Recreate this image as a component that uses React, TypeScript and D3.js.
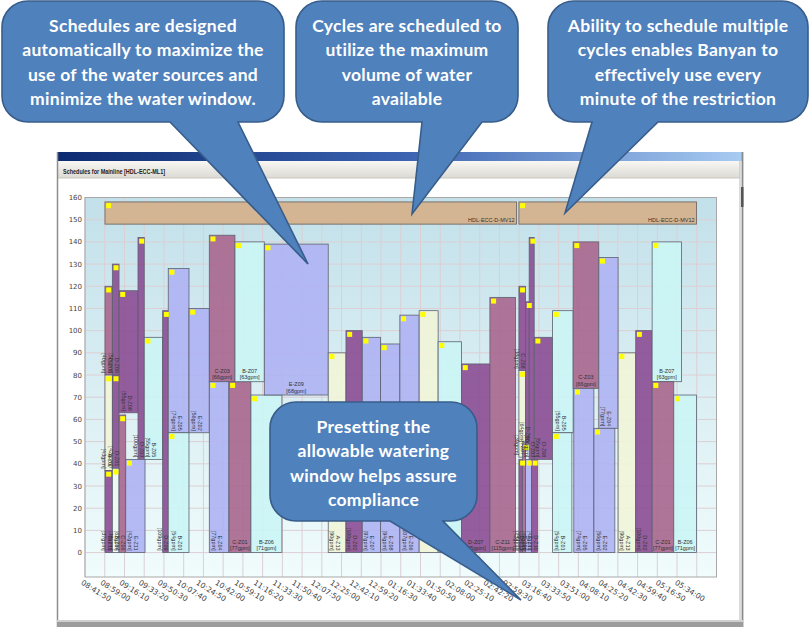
import React from "react";
import * as d3 from "d3";

// ---------- data ----------
const timeLabels = [
  "08:41:50", "08:59:00", "09:16:10", "09:33:20", "09:50:30", "10:07:40", "10:24:50", "10:42:00",
  "10:59:10", "11:16:20", "11:33:30", "11:50:40", "12:07:50", "12:25:00", "12:42:10", "12:59:20",
  "01:16:30", "01:33:40", "01:50:50", "02:08:00", "02:25:10", "02:42:20", "02:59:30", "03:16:40",
  "03:33:50", "03:51:00", "04:08:10", "04:25:20", "04:42:30", "04:59:40", "05:16:50", "05:34:00",
];
const yTickValues = [0, 10, 20, 30, 40, 50, 60, 70, 80, 90, 100, 110, 120, 130, 140, 150, 160];

// zones (minutes after 08:41:50, flow stack in gpm)
const zoneNames = [
  "C-Z08", "A-Z07", "D-Z11", "D-Z06", "D-Z01", "B-Z04", "D-Z08", "C-Z06", "D-Z03", "E-Z11",
  "B-Z05", "D-Z09", "E-Z05", "B-Z01", "E-Z02", "C-Z03", "E-Z04", "C-Z01", "B-Z07", "B-Z06",
  "E-Z09", "A-Z13", "D-Z02", "E-Z07", "E-Z08", "E-Z06", "", "", "D-Z07", "C-Z11",
  "C-Z08", "A-Z07", "D-Z11", "C-Z06", "D-Z06", "D-Z03", "E-Z11", "D-Z10", "D-Z08", "B-Z05",
  "B-Z01", "C-Z03", "E-Z05", "E-Z04", "E-Z02", "A-Z13", "D-Z02", "B-Z07", "C-Z01", "B-Z06",
];
const zoneKinds = [
  "C", "A", "D", "D", "D", "P", "D", "C", "D", "E",
  "B", "D", "E", "B", "E", "C", "E", "C", "B", "B",
  "E", "A", "D", "E", "E", "E", "A", "B", "D", "C",
  "D", "A", "D", "C", "D", "D", "E", "D", "D", "B",
  "B", "C", "E", "E", "E", "A", "D", "B", "C", "B",
];
const zoneStart = [
  17.9, 17.9, 17.9, 24.5, 24.5, 24.5, 30.5, 30.5, 47.5, 36.5,
  53.1, 69.6, 74.6, 74.6, 93.2, 111.4, 111.4, 129.0, 134.4, 148.7,
  160.7, 218.0, 233.9, 248.5, 264.9, 282.2, 299.5, 316.5, 337.5, 362.9,
  388.9, 388.9, 388.9, 392.0, 394.9, 398.1, 394.9, 400.2, 402.6, 419.1,
  419.1, 437.5, 438.1, 460.5, 456.1, 477.8, 493.6, 508.3, 508.3, 527.7,
];
const zoneEnd = [
  24.5, 24.5, 24.5, 30.5, 30.5, 30.5, 47.5, 36.5, 53.1, 53.8,
  69.6, 74.6, 93.2, 93.2, 111.4, 134.4, 129.0, 148.7, 160.7, 176.5,
  218.0, 233.9, 248.5, 264.9, 282.2, 299.5, 316.5, 337.5, 362.9, 385.9,
  394.9, 394.9, 392.0, 394.9, 398.1, 402.6, 400.2, 405.6, 419.1, 437.5,
  436.4, 460.5, 456.1, 477.8, 474.9, 493.6, 508.3, 534.6, 527.7, 548.1,
];
const zoneBase = [
  80, 37, 0, 80, 38, 0, 63, 0, 42, 0,
  42, 0, 54, 0, 54, 77, 0, 0, 77, 0,
  71, 0, 0, 0, 0, 0, 0, 0, 0, 0,
  82, 43, 0, 0, 49, 42, 0, 0, 42, 54,
  0, 74, 0, 56, 0, 0, 0, 77, 0, 0,
];
const zoneTop = [
  120, 80, 37, 130, 80, 38, 118, 62, 142, 42,
  97, 109, 128, 54, 110, 143, 77, 77, 140, 71,
  139, 90, 100, 97, 94, 107, 109, 95, 85, 115,
  120, 82, 42, 49, 113, 142, 42, 42, 97, 109,
  54, 140, 74, 133, 56, 90, 100, 140, 77, 71,
];

const headerNames = ["HDL-ECC-D-MV12", "HDL-ECC-D-MV12"];
const headerStart = [17.9, 388.9];
const headerEnd = [386.8, 548.1];
const headerBase = [148, 148];
const headerTop = [158, 158];

const calloutTexts = [
  ["Schedules are designed", "automatically to maximize the", "use of the water sources and", "minimize the water window."],
  ["Cycles are scheduled to", "utilize the maximum", "volume of water", "available"],
  ["Ability to schedule multiple", "cycles enables Banyan to", "effectively use every", "minute of the restriction"],
  ["Presetting the", "allowable watering", "window helps assure", "compliance"],
];

// ---------- layout ----------
const W = 810;
const H = 631;
const PL = 85, PR = 716.5, PT = 197.5, PB = 577;
const X_MAX = 566; // minutes spanned by plot
const Y_MIN = -11, Y_MAX = 160;

const KIND_FILL: Record<string, string> = {
  D: "#8b4d93",
  C: "#a9668e",
  E: "#aeb2f3",
  B: "#cbf5f5",
  A: "#f1f5d7",
  P: "#eef8f2",
};

const callouts = [
  { box: [2, 1, 284, 122], base: [170, 238], tip: [308, 264] },
  { box: [296, 1, 518, 122], base: [422, 482], tip: [412, 214] },
  { box: [548, 1, 808, 122], base: [592, 658], tip: [565, 213] },
  { box: [270, 402, 477, 521], base: [390, 443], tip: [521, 600] },
];

function toMinutes(labels: string[]) {
  let prev = -Infinity;
  let off = 0;
  const secs: number[] = [];
  for (const s of labels) {
    const [h, m, sc] = s.split(":").map(Number);
    let v = (h % 12) * 3600 + m * 60 + sc + off;
    if (v < prev) {
      off += 43200;
      v += 43200;
    }
    prev = v;
    secs.push(v);
  }
  return secs.map((v) => (v - secs[0]) / 60);
}

function calloutPath(box: number[], base: number[], tip: number[], r: number) {
  const [x0, y0, x1, y1] = box;
  return [
    `M${x0 + r},${y0}`,
    `H${x1 - r}`,
    `A${r},${r} 0 0 1 ${x1},${y0 + r}`,
    `V${y1 - r}`,
    `A${r},${r} 0 0 1 ${x1 - r},${y1}`,
    `H${base[1]}`,
    `L${tip[0]},${tip[1]}`,
    `L${base[0]},${y1}`,
    `H${x0 + r}`,
    `A${r},${r} 0 0 1 ${x0},${y1 - r}`,
    `V${y0 + r}`,
    `A${r},${r} 0 0 1 ${x0 + r},${y0}`,
    "Z",
  ].join(" ");
}

export default function App() {
  const x = d3.scaleLinear().domain([0, X_MAX]).range([PL, PR]);
  const y = d3.scaleLinear().domain([Y_MIN, Y_MAX]).range([PB, PT]);
  const tickMinutes = toMinutes(timeLabels);
  const gridMinutes = d3.range(33).map((i) => (i * X_MAX) / 32);

  const zones = zoneNames.map((name, i) => ({
    name,
    kind: zoneKinds[i],
    x0: x(zoneStart[i]),
    x1: x(zoneEnd[i]),
    yb: y(zoneBase[i]),
    yt: y(zoneTop[i]),
    gpm: Math.round(zoneTop[i] - zoneBase[i]),
  }));

  const labelFont = "'Liberation Sans', Arial, sans-serif";

  return (
    <svg
      width={W}
      height={H}
      viewBox={`0 0 ${W} ${H}`}
      style={{ position: "absolute", left: 0, top: 0, background: "#fff" }}
    >
      <defs>
        <linearGradient id="titleGrad" x1="0" x2="1" y1="0" y2="0">
          <stop offset="0" stopColor="#0c2a70" />
          <stop offset="0.5" stopColor="#3a62b0" />
          <stop offset="1" stopColor="#a8cbf2" />
        </linearGradient>
        <linearGradient id="toolGrad" x1="0" x2="0" y1="0" y2="1">
          <stop offset="0" stopColor="#f8f7f3" />
          <stop offset="1" stopColor="#dcdad4" />
        </linearGradient>
        <linearGradient id="plotGrad" x1="0" x2="0" y1="0" y2="1">
          <stop offset="0" stopColor="#c2e0ea" />
          <stop offset="1" stopColor="#f1fcfc" />
        </linearGradient>
      </defs>

      {/* window chrome */}
      <rect x={57} y={152} width={686} height={475} fill="#ffffff" />
      <rect x={57} y={152} width={685} height={9} fill="url(#titleGrad)" />
      <rect x={58} y={161} width={682} height={17} fill="url(#toolGrad)" />
      <line x1={58} x2={740} y1={178} y2={178} stroke="#c9c7c0" />
      <text
        x={63}
        y={174}
        fontFamily={labelFont}
        fontWeight="bold"
        fontSize={7}
        fill="#222"
        textLength={102}
        lengthAdjust="spacingAndGlyphs"
      >
        Schedules for Mainline [HDL-ECC-ML1]
      </text>
      <line x1={57.5} x2={57.5} y1={152} y2={627} stroke="#8e8e8e" strokeWidth={1.5} />
      <line x1={740} x2={740} y1={161} y2={621} stroke="#c4c4c4" strokeWidth={1.2} />
      <line x1={742.5} x2={742.5} y1={152} y2={627} stroke="#8a8a8a" strokeWidth={1.8} />
      <rect x={741} y={187} width={2.5} height={20} fill="#555" />
      <rect x={57} y={620} width={686} height={2} fill="#cfcfcf" />
      <rect x={57} y={622} width={686} height={5} fill="#9c9c9c" />

      {/* plot background */}
      <rect x={PL} y={PT} width={PR - PL} height={PB - PT} fill="url(#plotGrad)" />
      {yTickValues.map((v) => (
        <line key={"hy" + v} x1={PL} x2={PR} y1={y(v)} y2={y(v)} stroke="#dccfd3" strokeWidth={1} />
      ))}
      {gridMinutes.map((m, i) => (
        <line key={"gx" + i} x1={x(m)} x2={x(m)} y1={PT} y2={PB} stroke="#dccfd3" strokeWidth={1} />
      ))}
      <rect x={PL} y={PT} width={PR - PL} height={PB - PT} fill="none" stroke="#a8a8a8" strokeWidth={1} />

      {/* y axis labels */}
      {yTickValues.map((v) => (
        <text
          key={"yl" + v}
          x={82}
          y={y(v) + 2.5}
          textAnchor="end"
          fontFamily="'DejaVu Sans', sans-serif"
          fontSize={7}
          fill="#444"
        >
          {v}
        </text>
      ))}

      {/* x axis labels */}
      {timeLabels.map((t, i) => (
        <text
          key={"xl" + i}
          transform={`translate(${x(tickMinutes[i]) - 4.5},584) rotate(32)`}
          fontFamily="'DejaVu Sans', sans-serif"
          fontSize={7.5}
          fill="#444"
        >
          {t}
        </text>
      ))}

      {/* header bars */}
      {headerNames.map((n, i) => {
        const x0 = x(headerStart[i]);
        const x1 = x(headerEnd[i]);
        const yt = y(headerTop[i]);
        const yb = y(headerBase[i]);
        return (
          <g key={"hd" + i}>
            <rect x={x0} y={yt} width={x1 - x0} height={yb - yt} fill="#d5b18b" fillOpacity={0.92} stroke="#6f6a66" strokeWidth={0.9} />
            <rect x={x0 + 1.2} y={yt + 1.2} width={5} height={5} fill="#ffff00" />
            <text x={x1 - 2} y={yb - 2} textAnchor="end" fontFamily={labelFont} fontSize={5.5} fill="#333">
              {n}
            </text>
          </g>
        );
      })}

      {/* zone bars */}
      {zones.map((z, i) => (
        <rect
          key={"z" + i}
          x={z.x0}
          y={z.yt}
          width={z.x1 - z.x0}
          height={z.yb - z.yt}
          fill={KIND_FILL[z.kind]}
          fillOpacity={0.9}
          stroke="#5d6270"
          strokeWidth={0.8}
        />
      ))}
      {zones.map((z, i) => (
        <rect key={"m" + i} x={z.x0 + 1.2} y={z.yt + 1.2} width={5} height={5} fill="#ffff00" />
      ))}
      {zones.map((z, i) => {
        if (!z.name) return null;
        const w = z.x1 - z.x0;
        const cx = (z.x0 + z.x1) / 2;
        if (w >= 21.5) {
          return (
            <g key={"lb" + i} fontFamily={labelFont} fontSize={5.5} fill="#333" textAnchor="middle">
              <text x={cx} y={z.yb - 9}>{z.name}</text>
              <text x={cx} y={z.yb - 2.5}>[{z.gpm}gpm]</text>
            </g>
          );
        }
        const X = cx - 1;
        return (
          <g key={"lb" + i} fontFamily={labelFont} fontSize={5.5} fill="#333" textAnchor="end">
            <text transform={`translate(${X},${z.yb - 2}) rotate(90)`}>{z.name}</text>
            <text transform={`translate(${X - 6},${z.yb - 2}) rotate(90)`}>[{z.gpm}gpm]</text>
          </g>
        );
      })}

      {/* callouts */}
      {callouts.map((c, i) => {
        const [bx0, by0, bx1] = c.box;
        const cx = (bx0 + bx1) / 2;
        return (
          <g key={"co" + i}>
            <path d={calloutPath(c.box, c.base, c.tip, 26)} fill="#4f81bd" stroke="#385d8a" strokeWidth={1.6} />
            {calloutTexts[i].map((line, j) => (
              <text
                key={j}
                x={cx}
                y={by0 + 30.5 + j * 24.5}
                textAnchor="middle"
                fontFamily="Lato, 'Open Sans', sans-serif"
                fontWeight={700}
                fontSize={17.5}
                letterSpacing={0.3}
                fill="#ffffff"
              >
                {line}
              </text>
            ))}
          </g>
        );
      })}
    </svg>
  );
}
